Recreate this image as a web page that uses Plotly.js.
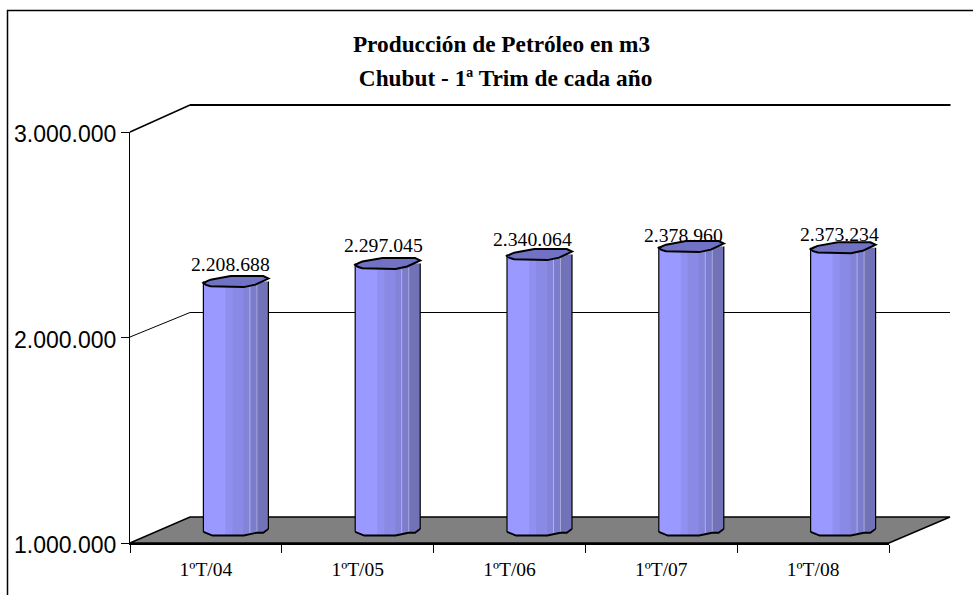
<!DOCTYPE html>
<html><head><meta charset="utf-8">
<script src="https://cdn.plot.ly/plotly-3.0.1.min.js"></script>
<style>html,body{margin:0;padding:0;background:#fff}</style></head>
<body><div id="chart" style="width:973px;height:595px"></div>
<script>
var categories = ['1ºT/04','1ºT/05','1ºT/06','1ºT/07','1ºT/08'];
var production = [2208688,2297045,2340064,2378960,2373234];
var labelRaise = [18,18,16,12,14];
var labelLeft = [5,4,7,8,4];
var bandStops = [0,22,29,40,46,47,53,54,65];
var bandColors = ['#9999ff','#9090f0','#8a8ae6','#8383d8','#b0b0e8','#7c7ccc','#a8a8dc','#7272b8'];
var capOutline = [[0,-0.25],[0.05,0.05],[0.11,0.35],[0.42,1],[0.92,1],[1,0.55],[0.8,-0.55],[0.62,-1],[0.11,-0.85],[0.04,-0.6]];
var footOutline = [[0,0.35],[0.14,1],[0.62,1],[0.82,0.5],[0.92,0.5],[1,-0.2]];

var W=973,H=595;
function px(x){return x/W;} function py(y){return 1-y/H;}
var unitsPerPx = 2000000/411;
var slots = categories.map(function(_,i){return i;});
var ry = 5.5*unitsPerPx;            // half-height of the cylinder ends, in axis units
var barW = 65/151.8;
function footDrop(u){
  for(var i=0;i<footOutline.length-1;i++){
    var a=footOutline[i], b=footOutline[i+1];
    if(u<=b[0]) return (a[1]+(b[1]-a[1])*(u-a[0])/(b[0]-a[0]))*ry;
  }
  return 0;
}
var traces = [];
traces.push({type:'scatter',mode:'none',x:categories,y:production,xaxis:'x',yaxis:'y',hoverinfo:'skip',showlegend:false});
function fmt(v){return String(v).replace(/\B(?=(\d{3})+(?!\d))/g,'.');}
bandColors.forEach(function(c,b){
  var a=bandStops[b], e=bandStops[b+1], n=Math.max(1,Math.round((e-a)/2.5));
  for(var k=0;k<n;k++){
    var f0=(a+(e-a)*k/n)/65, f1=(a+(e-a)*(k+1)/n)/65;
    var baseV=1000000-footDrop((f0+f1)/2);
    var over = (b===bandColors.length-1 && k===n-1) ? 0 : 0.007;
    traces.push({type:'bar',xaxis:'x2',yaxis:'y2',x:slots,
      y:production.map(function(v){return v-baseV;}),
      base:slots.map(function(){return baseV;}),
      width:(f1-f0)*barW+over, offset:-barW/2+f0*barW,
      marker:{color:c,line:{width:0}},hoverinfo:'skip',showlegend:false});
  }
});
var shapes=[
 {type:'path',xref:'paper',yref:'paper',layer:'below',
  path:'M'+px(130)+','+py(543)+' L'+px(190)+','+py(517)+' L'+px(950)+','+py(517)+' L'+px(889)+','+py(543)+' Z',
  fillcolor:'#808080',line:{color:'#000',width:1.5}},
 {type:'line',xref:'paper',yref:'paper',layer:'below',x0:px(130),y0:py(132),x1:px(190),y1:py(105),line:{color:'#000',width:1.5}},
 {type:'line',xref:'paper',yref:'paper',layer:'below',x0:px(190),y0:py(105),x1:px(950.5),y1:py(105),line:{color:'#000',width:2}},
 {type:'line',xref:'paper',yref:'paper',layer:'below',x0:px(130),y0:py(337),x1:px(190),y1:py(312.5),line:{color:'#000',width:1}},
 {type:'line',xref:'paper',yref:'paper',layer:'below',x0:px(190),y0:py(312.5),x1:px(950),y1:py(312.5),line:{color:'#000',width:1}},
 {type:'path',xref:'paper',yref:'paper',layer:'below',
  path:'M'+px(7.5)+','+py(600)+' L'+px(7.5)+','+py(10.5)+' L'+px(980)+','+py(10.5),
  line:{color:'#000',width:1.5}}
];
var annotations=[];
production.forEach(function(v,i){
  var l=i-barW/2, r=i+barW/2;
  shapes.push({type:'line',xref:'x2',yref:'y2',x0:l,x1:l,y0:1000000-footDrop(0),y1:v,line:{color:'#000',width:1.2}});
  shapes.push({type:'line',xref:'x2',yref:'y2',x0:r,x1:r,y0:1000000-footDrop(1),y1:v,line:{color:'#000',width:1.2}});
  var foot=footOutline.map(function(p,j){return (j?'L':'M')+(l+p[0]*barW)+','+(1000000-p[1]*ry);}).join(' ');
  shapes.push({type:'path',xref:'x2',yref:'y2',path:foot,line:{color:'#000',width:1.8}});
  var cap=capOutline.map(function(p,j){return (j?'L':'M')+(l+p[0]*barW)+','+(v+p[1]*ry);}).join(' ')+' Z';
  shapes.push({type:'path',xref:'x2',yref:'y2',path:cap,fillcolor:'#7272c4',line:{color:'#000',width:2}});
  annotations.push({xref:'x2',yref:'y2',x:i,y:v,yshift:labelRaise[i],xshift:-labelLeft[i],text:fmt(v),showarrow:false,
    font:{family:'"Liberation Serif",serif',size:19.7,color:'#000'}});
});
var titleFont={family:'"Liberation Serif",serif',size:23.3,color:'#000'};
var layout={
  width:W,height:H,margin:{l:0,r:0,t:0,b:0,pad:0},
  paper_bgcolor:'#fff',plot_bgcolor:'rgba(0,0,0,0)',showlegend:false,barmode:'overlay',separators:',.',
  title:{text:'<b>Producción de Petróleo en m3</b>',x:501.5/W,xanchor:'center',y:py(44),yanchor:'middle',font:titleFont},
  xaxis:{domain:[px(130),px(889)],type:'category',categoryorder:'array',categoryarray:categories,range:[-0.5,4.5],
    tickson:'boundaries',ticks:'outside',ticklen:8,tickcolor:'#000',tickwidth:1,showgrid:false,zeroline:false,
    showline:true,linecolor:'#000',linewidth:2,anchor:'y',fixedrange:true,ticklabelstandoff:8,
    tickfont:{family:'"Liberation Serif",serif',size:19.5,color:'#000'}},
  yaxis:{domain:[py(543),py(132)],range:[1000000,3000000],tick0:1000000,dtick:1000000,tickformat:',d',
    ticks:'outside',ticklen:8,tickcolor:'#000',tickwidth:1,showgrid:false,zeroline:false,
    showline:true,linecolor:'#000',linewidth:1,anchor:'x',fixedrange:true,ticklabelshift:2,
    tickfont:{family:'"Liberation Sans",sans-serif',size:23,color:'#000'}},
  xaxis2:{domain:[px(160),px(919)],range:[-0.5,4.5],visible:false,anchor:'y2',fixedrange:true},
  yaxis2:{domain:[py(545),py(119)],range:[1000000-15*unitsPerPx,3000000],visible:false,anchor:'x2',fixedrange:true},
  shapes:shapes,
  annotations:annotations.concat([{xref:'paper',yref:'paper',x:502.5/W,xanchor:'center',y:py(78),yanchor:'middle',text:'<b> Chubut - 1ª Trim de cada año</b>',showarrow:false,font:titleFont}])
};
Plotly.newPlot('chart',traces,layout,{displayModeBar:false,staticPlot:true});
</script></body></html>
